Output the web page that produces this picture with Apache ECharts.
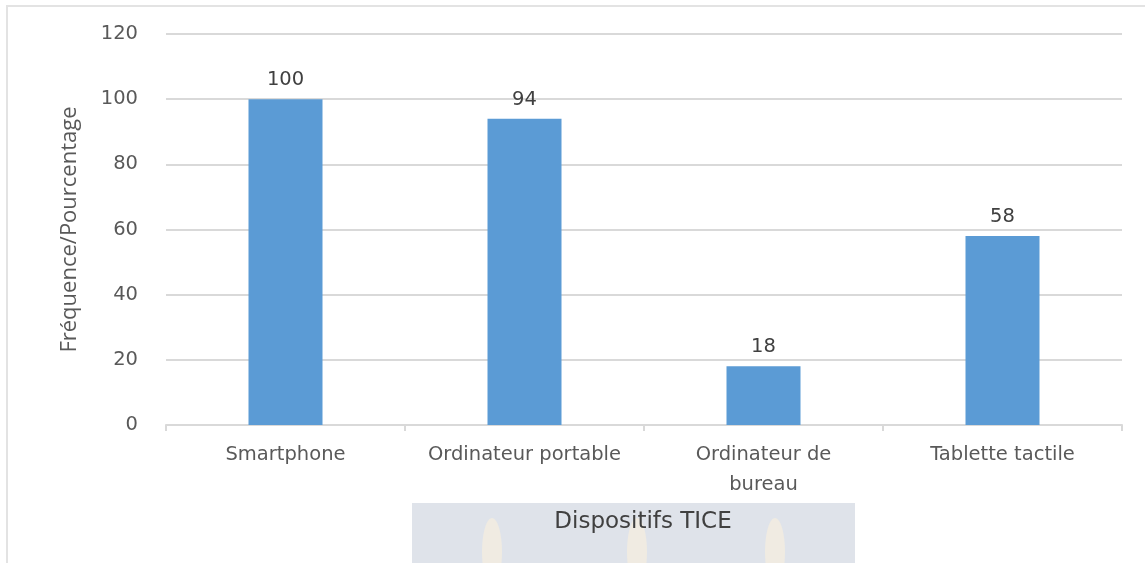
<!DOCTYPE html>
<html>
<head>
<meta charset="utf-8">
<script src="https://cdn.jsdelivr.net/npm/echarts@6/dist/echarts.min.js"></script>
<style>
  html, body { margin: 0; padding: 0; background: #fff; overflow: hidden; }
  #frame { position: absolute; left: 6px; top: 5px; width: 1200px; height: 600px; border-left: 2px solid #e3e3e3; border-top: 2px solid #e3e3e3; }
  #chart { position: absolute; left: 0; top: 0; width: 1145px; height: 563px; }
</style>
</head>
<body>
<div id="frame"></div>
<div id="chart"></div>
<script>
let categories = ["Smartphone", "Ordinateur portable", "Ordinateur de\nbureau", "Tablette tactile"]
let values = [100, 94, 18, 58]
let yTitle = "Fréquence/Pourcentage"
let xTitle = "Dispositifs TICE"

let font = "DejaVu Sans"
let myChart = echarts.init(document.getElementById("chart"))

let option = {
    animation: false,
    grid: { left: 166, right: 23, top: 34, bottom: 138 },
    xAxis: {
        type: "category",
        data: categories,
        axisLine: { lineStyle: { color: "#d9d9d9", width: 2 } },
        axisTick: { show: true, length: 6, lineStyle: { color: "#d9d9d9", width: 2 } },
        axisLabel: { color: "#595959", fontFamily: font, fontSize: 19.5, margin: 15, lineHeight: 30, interval: 0 }
    },
    yAxis: {
        type: "value",
        min: 0, max: 120, interval: 20,
        name: yTitle,
        nameLocation: "middle",
        nameGap: 85,
        nameRotate: 90,
        nameTextStyle: { color: "#595959", fontFamily: "Open Sans", fontSize: 22 },
        axisLine: { show: false },
        axisTick: { show: false },
        axisLabel: { color: "#595959", fontFamily: font, fontSize: 19.5, margin: 28 },
        splitLine: { lineStyle: { color: "#d9d9d9", width: 2 } }
    },
    series: [{
        type: "bar",
        data: values,
        barWidth: 74,
        itemStyle: { color: "#5b9bd5" },
        label: { show: true, position: "top", color: "#404040", fontFamily: font, fontSize: 19.5, distance: 9 }
    }],
    graphic: [
        { type: "rect", left: 412, top: 503, shape: { width: 443, height: 60 }, style: { fill: "#dfe3ea" }, z: 1 },
        { type: "ellipse", shape: { cx: 492, cy: 552, rx: 10, ry: 34 }, style: { fill: "#f0ebe2" }, z: 2 },
        { type: "ellipse", shape: { cx: 637, cy: 552, rx: 10, ry: 34 }, style: { fill: "#f0ebe2" }, z: 2 },
        { type: "ellipse", shape: { cx: 775, cy: 552, rx: 10, ry: 34 }, style: { fill: "#f0ebe2" }, z: 2 },
        { type: "text", x: 643, y: 522, style: { text: xTitle, fill: "#404040", font: "23px 'DejaVu Sans'", align: "center", verticalAlign: "middle" }, z: 3 }
    ]
}
myChart.setOption(option)
</script>
</body>
</html>
